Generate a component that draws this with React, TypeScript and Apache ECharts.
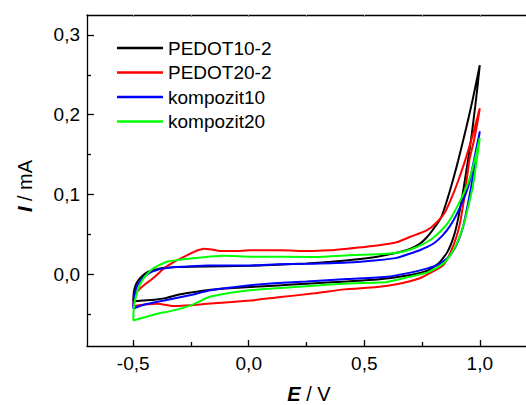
import React, { useEffect, useRef } from "react";
import * as echarts from "echarts";

// Series: each loop listed as [E (V), I (mA)] pairs, forward scan then reverse scan
const seriesNames = ["PEDOT10-2", "PEDOT20-2", "kompozit10", "kompozit20"];
const seriesColors = ["#000000", "#ff0000", "#0000ff", "#00ff00"];

const pedot10_2: number[][] = [
  [-0.5, -0.034], [-0.497, -0.022], [-0.49, -0.014], [-0.48, -0.0085], [-0.46, -0.002], [-0.437, 0.003],
  [-0.4, 0.006], [-0.366, 0.008], [-0.3, 0.009], [-0.25, 0.0095], [-0.108, 0.01], [0.006, 0.0105],
  [0.127, 0.012], [0.25, 0.0135], [0.355, 0.0155], [0.45, 0.018], [0.556, 0.022], [0.64, 0.027],
  [0.7, 0.032], [0.74, 0.038], [0.77, 0.046], [0.8, 0.057], [0.834, 0.072], [0.87, 0.104],
  [0.906, 0.142], [0.94, 0.182], [0.97, 0.22], [1.0, 0.262],
  [0.99, 0.235], [0.98, 0.21], [0.965, 0.175], [0.95, 0.145], [0.93, 0.108], [0.91, 0.075],
  [0.89, 0.05], [0.86, 0.028], [0.82, 0.013], [0.77, 0.004], [0.7, -0.001], [0.556, -0.0067],
  [0.427, -0.009], [0.25, -0.012], [0.127, -0.014], [0.006, -0.016], [-0.1, -0.018], [-0.18, -0.02],
  [-0.25, -0.023], [-0.31, -0.026], [-0.36, -0.03], [-0.408, -0.032], [-0.46, -0.033], [-0.5, -0.034],
];

const pedot20_2: number[][] = [
  [-0.5, -0.04], [-0.497, -0.03], [-0.49, -0.024], [-0.47, -0.018], [-0.45, -0.013], [-0.41, -0.004],
  [-0.366, 0.0075], [-0.32, 0.016], [-0.266, 0.024], [-0.22, 0.03], [-0.194, 0.032], [-0.16, 0.031],
  [-0.122, 0.029], [-0.06, 0.029], [0.006, 0.03], [0.14, 0.03], [0.256, 0.029], [0.35, 0.03],
  [0.427, 0.032], [0.556, 0.036], [0.64, 0.04], [0.7, 0.047], [0.77, 0.055], [0.81, 0.064],
  [0.85, 0.078], [0.884, 0.1], [0.91, 0.12], [0.937, 0.143], [0.97, 0.175], [1.0, 0.208],
  [0.99, 0.19], [0.975, 0.168], [0.955, 0.143], [0.935, 0.1], [0.915, 0.065], [0.9, 0.048],
  [0.88, 0.032], [0.865, 0.022], [0.84, 0.011], [0.8, 0.004], [0.74, -0.005], [0.64, -0.0125],
  [0.556, -0.016], [0.413, -0.019], [0.285, -0.024], [0.127, -0.029], [0.006, -0.033], [-0.18, -0.037],
  [-0.25, -0.039], [-0.32, -0.04], [-0.395, -0.037], [-0.45, -0.038], [-0.5, -0.04],
];

const kompozit10: number[][] = [
  [-0.5, -0.043], [-0.497, -0.03], [-0.49, -0.02], [-0.48, -0.013], [-0.46, -0.005], [-0.42, 0.003],
  [-0.37, 0.007], [-0.32, 0.009], [-0.25, 0.01], [-0.18, 0.011], [0.006, 0.011], [0.127, 0.0125],
  [0.25, 0.013], [0.427, 0.0147], [0.556, 0.0176], [0.64, 0.0205], [0.7, 0.026], [0.74, 0.03],
  [0.8, 0.0385], [0.84, 0.049], [0.87, 0.06], [0.9, 0.075], [0.93, 0.094], [0.954, 0.114],
  [0.975, 0.143], [1.0, 0.179],
  [0.99, 0.16], [0.97, 0.122], [0.95, 0.09], [0.927, 0.059], [0.9, 0.037], [0.875, 0.025],
  [0.856, 0.019], [0.82, 0.012], [0.77, 0.007], [0.7, 0.002], [0.598, -0.0033], [0.427, -0.006],
  [0.25, -0.009], [0.127, -0.011], [0.006, -0.0138], [-0.165, -0.02], [-0.25, -0.026], [-0.366, -0.033],
  [-0.45, -0.038], [-0.5, -0.043],
];

const kompozit20: number[][] = [
  [-0.5, -0.058], [-0.498, -0.045], [-0.494, -0.035], [-0.48, -0.02], [-0.465, -0.0097], [-0.44, 0.0],
  [-0.42, 0.006], [-0.39, 0.011], [-0.35, 0.016], [-0.3, 0.018], [-0.25, 0.0197], [-0.108, 0.023],
  [0.006, 0.022], [0.285, 0.0217], [0.45, 0.024], [0.556, 0.025], [0.64, 0.027], [0.7, 0.031],
  [0.75, 0.037], [0.8, 0.046], [0.856, 0.062], [0.884, 0.075], [0.92, 0.095], [0.954, 0.118],
  [0.984, 0.15], [1.0, 0.171],
  [0.99, 0.15], [0.97, 0.11], [0.95, 0.085], [0.927, 0.059], [0.9, 0.038], [0.87, 0.023],
  [0.84, 0.013], [0.78, 0.003], [0.7, -0.003], [0.598, -0.0097], [0.427, -0.0117], [0.25, -0.015],
  [0.006, -0.02], [-0.165, -0.028], [-0.22, -0.035], [-0.25, -0.039], [-0.32, -0.045], [-0.4, -0.05],
  [-0.45, -0.054], [-0.5, -0.058],
];

const seriesData = [pedot10_2, pedot20_2, kompozit10, kompozit20];

const xMajorTicks = [-0.5, 0, 0.5, 1.0];
const xMinorTicks = [-0.25, 0.25, 0.75];
const yMajorTicks = [0, 0.1, 0.2, 0.3];
const yMinorTicks = [-0.05, 0.05, 0.15, 0.25];

const FONT = "'Liberation Sans', Arial, sans-serif";
const fmt = (v: number) => v.toFixed(1).replace(".", ",");

export default function App() {
  const ref = useRef<HTMLDivElement>(null);
  useEffect(() => {
    if (!ref.current) return;
    const chart = echarts.init(ref.current, undefined, { renderer: "svg" });
    const axisLine = { show: true, onZero: false, lineStyle: { color: "#000", width: 1.3 } };
    const noLine = { show: false, onZero: false };
    const common = { type: "value" as const, splitLine: { show: false } };
    chart.setOption({
      animation: false,
      backgroundColor: "#fff",
      grid: { left: 87, top: 15, right: -4.4, bottom: 59 },
      xAxis: [
        {
          ...common, min: -0.7, max: 1.2, position: "bottom", axisLine,
          axisTick: { show: true, inside: true, length: 6, customValues: xMajorTicks, lineStyle: { color: "#000", width: 1.3 } },
          axisLabel: { show: true, customValues: xMajorTicks, formatter: fmt, margin: 8, color: "#000", fontSize: 19, fontFamily: FONT },
        },
        {
          ...common, min: -0.7, max: 1.2, position: "bottom", axisLine: noLine,
          axisTick: { show: true, inside: true, length: 4, customValues: xMinorTicks, lineStyle: { color: "#000", width: 1.3 } },
          axisLabel: { show: false },
        },
        {
          ...common, min: -0.7, max: 1.2, position: "top", axisLine,
          axisTick: { show: true, inside: true, length: 2, customValues: [...xMajorTicks, ...xMinorTicks], lineStyle: { color: "#888", width: 1 } },
          axisLabel: { show: false },
        },
      ],
      yAxis: [
        {
          ...common, min: -0.09, max: 0.325, position: "left", axisLine,
          axisTick: { show: true, inside: true, length: 7, customValues: yMajorTicks, lineStyle: { color: "#000", width: 1.3 } },
          axisLabel: { show: true, customValues: yMajorTicks, formatter: fmt, margin: 7, color: "#000", fontSize: 19, fontFamily: FONT },
        },
        {
          ...common, min: -0.09, max: 0.325, position: "left", axisLine: noLine,
          axisTick: { show: true, inside: true, length: 4, customValues: yMinorTicks, lineStyle: { color: "#000", width: 1.3 } },
          axisLabel: { show: false },
        },
      ],
      legend: {
        orient: "vertical", left: 117, top: 37.5, padding: 0, itemGap: 3.5,
        itemWidth: 46, itemHeight: 2.5, icon: "rect",
        data: seriesNames,
        textStyle: { color: "#000", fontSize: 19, fontFamily: FONT, lineHeight: 21 },
      },
      series: seriesData.map((d, i) => ({
        name: seriesNames[i], type: "line", data: d, xAxisIndex: 0, yAxisIndex: 0,
        showSymbol: false, symbol: "none", smooth: 0.2,
        lineStyle: { color: seriesColors[i], width: 2 }, itemStyle: { color: seriesColors[i] },
      })),
      graphic: [
        {
          type: "text", x: 309, y: 394,
          style: {
            text: "{b|E}{r| / V}", textAlign: "center", textVerticalAlign: "middle",
            font: `20px ${FONT}`, fill: "#000",
            rich: {
              b: { fontWeight: "bold", fontStyle: "italic", fontSize: 20, fontFamily: FONT, lineHeight: 18 },
              r: { fontSize: 20, fontFamily: FONT, lineHeight: 18 },
            },
          },
        },
        {
          type: "text", x: 25, y: 186, rotation: Math.PI / 2,
          style: {
            text: "{b|I}{r| / mA}", textAlign: "center", textVerticalAlign: "middle",
            font: `20px ${FONT}`, fill: "#000",
            rich: {
              b: { fontWeight: "bold", fontStyle: "italic", fontSize: 20, fontFamily: FONT, lineHeight: 18 },
              r: { fontSize: 20, fontFamily: FONT, lineHeight: 18 },
            },
          },
        },
      ],
    });
    return () => chart.dispose();
  }, []);
  return <div ref={ref} style={{ position: "fixed", left: 0, top: 0, width: 526, height: 405 }} />;
}
